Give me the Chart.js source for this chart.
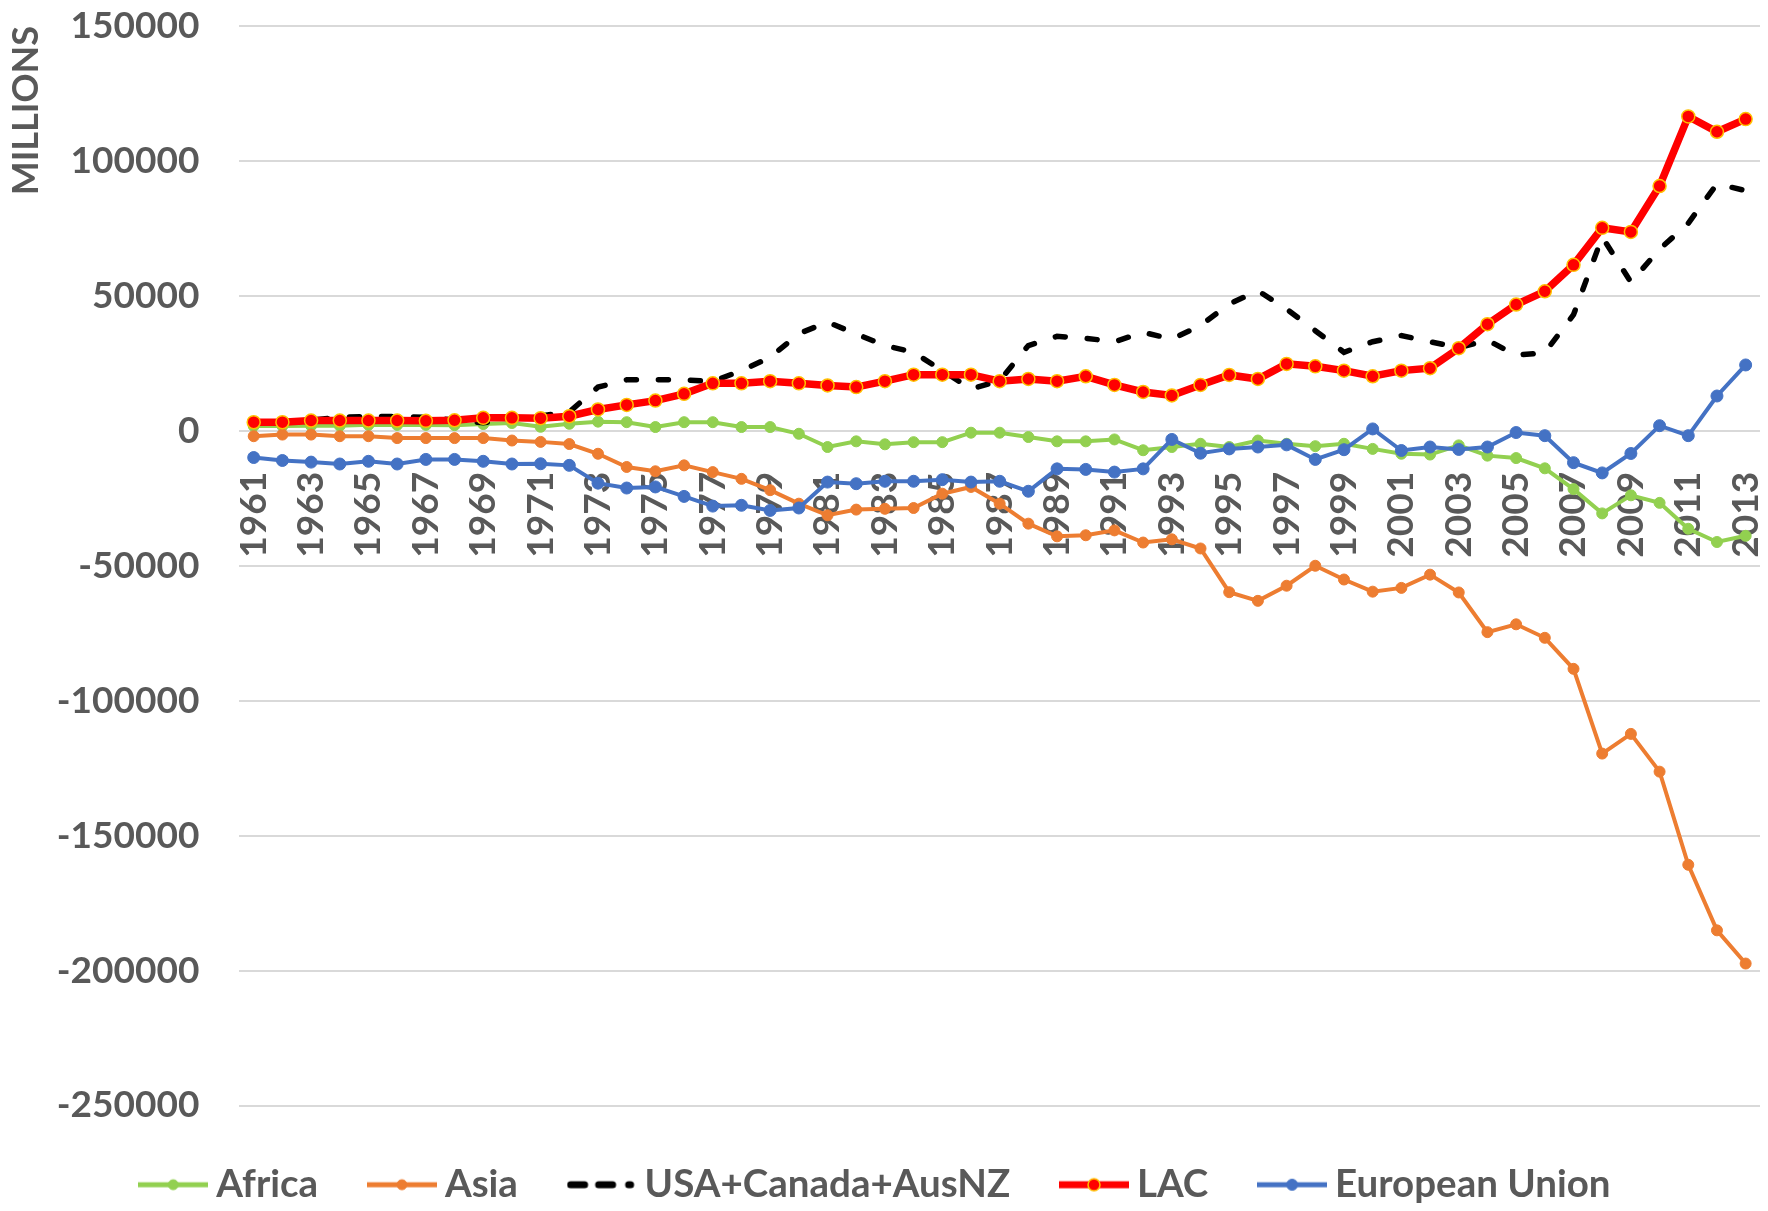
<!DOCTYPE html>
<html>
<head>
<meta charset="utf-8">
<script src="https://cdn.jsdelivr.net/npm/chart.js@4.4.0/dist/chart.umd.min.js"></script>
<style>
  body { margin: 0; background: #fff; }
  canvas { display: block; }
</style>
</head>
<body>
<canvas id="chart" width="1768" height="1211"></canvas>
<script>
const years = ['1961', '1962', '1963', '1964', '1965', '1966', '1967', '1968', '1969', '1970',
    '1971', '1972', '1973', '1974', '1975', '1976', '1977', '1978', '1979', '1980',
    '1981', '1982', '1983', '1984', '1985', '1986', '1987', '1988', '1989', '1990',
    '1991', '1992', '1993', '1994', '1995', '1996', '1997', '1998', '1999', '2000',
    '2001', '2002', '2003', '2004', '2005', '2006', '2007', '2008', '2009', '2010',
    '2011', '2012', '2013'];

const africa = [1800, 1800, 1900, 1900, 2200, 2200, 2200, 2100, 2500, 2900,
    1500, 2600, 3400, 3200, 1400, 3200, 3200, 1400, 1400, -1100,
    -6000, -3900, -5000, -4200, -4200, -700, -700, -2300, -3900, -3900,
    -3200, -7200, -6000, -4800, -6000, -3600, -4800, -5700, -4800, -6700,
    -8500, -8800, -5400, -9200, -10100, -13900, -21600, -30600, -23900, -26700,
    -36300, -41200, -38900];

const asia = [-2000, -1400, -1400, -2000, -2000, -2700, -2700, -2700, -2700, -3600,
    -4100, -4900, -8500, -13400, -15000, -12800, -15300, -17800, -22000, -27000,
    -31300, -29200, -28900, -28600, -23300, -20800, -27000, -34400, -39100, -38700,
    -36900, -41400, -40200, -43600, -59800, -63000, -57400, -50000, -55100, -59600,
    -58200, -53300, -59900, -74600, -71700, -76700, -88200, -119600, -112300, -126300,
    -160800, -185100, -197400];

const usaCanAusNZ = [3200, 3400, 4000, 5000, 5300, 5300, 5000, 4000, 3000, 4500,
    5500, 7000, 16200, 18900, 18900, 18900, 18300, 22300, 27200, 36000,
    40300, 35900, 31600, 29100, 22300, 15500, 18600, 31600, 35000, 34300,
    33000, 36500, 34000, 39000, 47000, 51900, 45100, 37100, 29100, 33000,
    35300, 33000, 30800, 33600, 28000, 29000, 43000, 71800, 55100, 67300,
    76900, 91500, 89000];

const lac = [3200, 3200, 3800, 3800, 3800, 3800, 3700, 3900, 4800, 4800,
    4700, 5400, 7900, 9600, 11200, 13700, 17600, 17600, 18400, 17600,
    16800, 16200, 18400, 20800, 20800, 20800, 18400, 19200, 18400, 20200,
    17000, 14400, 13100, 17000, 20700, 19200, 24800, 23900, 22300, 20200,
    22300, 23200, 30600, 39500, 46800, 51700, 61500, 75200, 73700, 90700,
    116500, 110800, 115500];

const eu = [-9900, -11000, -11600, -12300, -11300, -12300, -10600, -10600, -11300, -12300,
    -12200, -12800, -19400, -21200, -20800, -24300, -27900, -27600, -29500, -28600,
    -19000, -19600, -18700, -18700, -18100, -19000, -18700, -22400, -14100, -14300,
    -15300, -14100, -3200, -8300, -6700, -6000, -5200, -10600, -7000, 700,
    -7300, -6000, -6900, -6000, -640, -1800, -11800, -15600, -8400, 1900,
    -1800, 12900, 24400];

const grey = '#595959';
const font = (size, lineHeight) => ({ family: 'Lato', size: size, weight: 'bold', lineHeight: lineHeight || 1.2 });

// legend icon: line sample with the marker in the middle
function legendIcon(ds) {
    const c = document.createElement('canvas');
    c.width = 70;
    c.height = 18;
    const g = c.getContext('2d');
    g.strokeStyle = ds.borderColor;
    g.lineWidth = ds.legendWidth;
    if (ds.borderDash) {
        g.lineCap = 'round';
        g.beginPath();
        g.moveTo(4, 9); g.lineTo(18, 9);
        g.moveTo(32, 9); g.lineTo(46, 9);
        g.moveTo(62, 9); g.lineTo(64, 9);
        g.stroke();
    } else {
        g.beginPath();
        g.moveTo(0, 9); g.lineTo(70, 9);
        g.stroke();
    }
    if (ds.pointRadius > 0) {
        g.beginPath();
        g.arc(35, 9, ds.pointRadius - 0.5, 0, Math.PI * 2);
        g.fillStyle = ds.pointBackgroundColor;
        g.fill();
        g.lineWidth = ds.pointBorderWidth;
        g.strokeStyle = ds.pointBorderColor;
        g.stroke();
    }
    return c;
}

const datasets = [
    {
        label: 'Africa', data: africa, order: 5,
        borderColor: '#92D050', borderWidth: 4, legendWidth: 5,
        pointRadius: 5.5, pointBackgroundColor: '#92D050', pointBorderColor: '#92D050', pointBorderWidth: 1
    },
    {
        label: 'Asia', data: asia, order: 4,
        borderColor: '#ED7D31', borderWidth: 4, legendWidth: 5,
        pointRadius: 5.5, pointBackgroundColor: '#ED7D31', pointBorderColor: '#ED7D31', pointBorderWidth: 1
    },
    {
        label: 'USA+Canada+AusNZ', data: usaCanAusNZ, order: 3,
        borderColor: '#000000', borderWidth: 5.5, legendWidth: 7,
        borderDash: [10, 22], borderCapStyle: 'round',
        pointRadius: 0
    },
    {
        label: 'LAC', data: lac, order: 2,
        borderColor: '#FF0000', borderWidth: 7.5, legendWidth: 7,
        pointRadius: 6.5, pointBackgroundColor: '#FF0000', pointBorderColor: '#FFC000', pointBorderWidth: 1.5
    },
    {
        label: 'European Union', data: eu, order: 1,
        borderColor: '#4472C4', borderWidth: 4, legendWidth: 5,
        pointRadius: 6, pointBackgroundColor: '#4472C4', pointBorderColor: '#4472C4', pointBorderWidth: 1
    }
];

new Chart(document.getElementById('chart').getContext('2d'), {
    type: 'line',
    data: { labels: years, datasets: datasets },
    options: {
        responsive: false,
        animation: false,
        events: [],
        layout: { padding: { top: 26, right: 8, bottom: -3, left: 0 } },
        elements: { line: { tension: 0 } },
        plugins: {
            tooltip: { enabled: false },
            legend: {
                position: 'bottom',
                labels: {
                    usePointStyle: true,
                    pointStyleWidth: 47.5,
                    padding: 60,
                    color: grey,
                    font: font(38.5),
                    generateLabels: (chart) => chart.data.datasets.map((ds, i) => ({
                        text: ds.label,
                        datasetIndex: i,
                        pointStyle: legendIcon(ds),
                        fontColor: grey,
                        lineWidth: 0,
                        hidden: false
                    }))
                }
            }
        },
        scales: {
            x: {
                type: 'category',
                offset: true,
                position: { y: 0 },
                // tick marks hidden; tickLength only pushes the labels down
                grid: { display: false, drawTicks: true, tickLength: 41 },
                border: { display: false },
                ticks: {
                    autoSkip: false,
                    minRotation: 90,
                    maxRotation: 90,
                    padding: 0,
                    color: grey,
                    font: font(37, 0.35),
                    callback: function (value, index) {
                        return index % 2 === 0 ? this.getLabelForValue(value) : '';
                    }
                }
            },
            y: {
                min: -250000,
                max: 150000,
                grid: { color: '#D9D9D9', lineWidth: 2, drawTicks: true, tickLength: 40, tickColor: 'rgba(0,0,0,0)' },
                border: { display: false },
                ticks: {
                    stepSize: 50000,
                    padding: 0,
                    color: grey,
                    font: font(37),
                    callback: (v) => String(v)
                },
                title: {
                    display: true,
                    text: 'MILLIONS',
                    align: 'end',
                    color: grey,
                    font: font(36),
                    padding: { top: 5, bottom: 8.6 }
                }
            }
        }
    }
});
</script>
</body>
</html>
